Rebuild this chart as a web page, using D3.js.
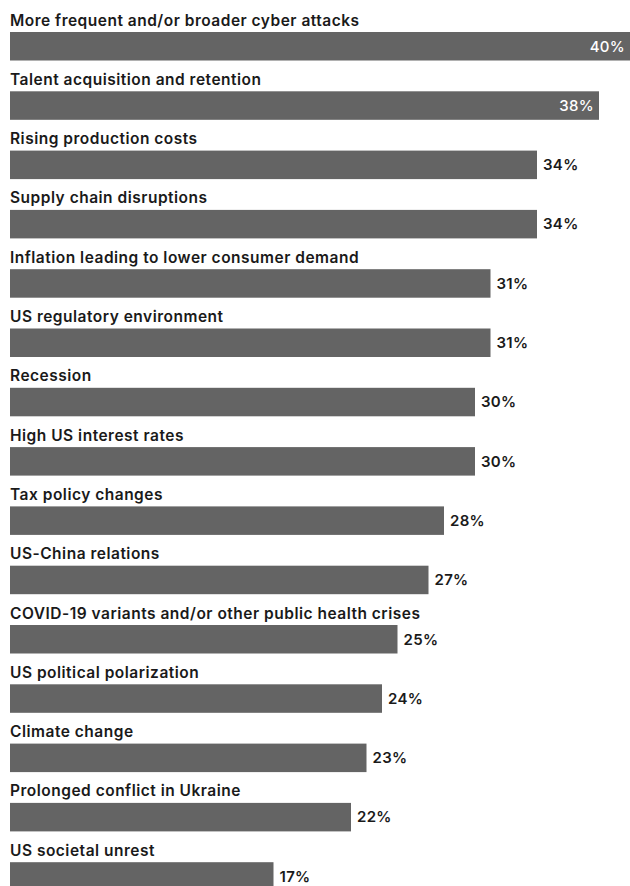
<!DOCTYPE html>
<html><head><meta charset="utf-8">
<script src="https://cdn.jsdelivr.net/npm/d3@7"></script>
<style>body{margin:0;background:#fff}svg{display:block}</style>
</head><body>
<script>
const categories = ["More frequent and/or broader cyber attacks","Talent acquisition and retention","Rising production costs","Supply chain disruptions","Inflation leading to lower consumer demand","US regulatory environment","Recession","High US interest rates","Tax policy changes","US-China relations","COVID-19 variants and/or other public health crises","US political polarization","Climate change","Prolonged conflict in Ukraine","US societal unrest"];
const values = [40,38,34,34,31,31,30,30,28,27,25,24,23,22,17];
const insideThreshold = 38;

const W = 630, H = 886;
const svg = d3.select("body").append("svg").attr("width", W).attr("height", H);
const x = d3.scaleLinear().domain([0, 40]).range([10, 630]);
const pitch = 59.3;
const y = d3.scaleBand().domain(categories).range([32 - 27.5, 32 + 15 * pitch - 27.5]).paddingInner(0).paddingOuter(0);
const barTop = d => y(d) + 27.5;
const barH = 28.5;
const font = "Inter, 'Noto Sans', sans-serif";

const g = svg.selectAll("g.row").data(categories.map((c, i) => ({c, v: values[i]}))).join("g");
g.append("text").attr("x", 10).attr("y", d => barTop(d.c) - 6.5)
  .attr("font-family", font).attr("font-size", 15.5).attr("font-weight", 600).attr("fill", "#1a1a1a")
  .attr("letter-spacing", 0.5)
  .text(d => d.c);
g.append("rect").attr("x", x(0)).attr("y", d => barTop(d.c)).attr("width", d => x(d.v) - x(0)).attr("height", barH)
  .attr("fill", "#646464");
g.append("text")
  .attr("x", d => d.v >= insideThreshold ? x(d.v) - 5 : x(d.v) + 6)
  .attr("y", d => barTop(d.c) + 19.5)
  .attr("text-anchor", d => d.v >= insideThreshold ? "end" : "start")
  .attr("font-family", font).attr("font-size", 15).attr("font-weight", d => d.v >= insideThreshold ? 500 : 600)
  .attr("letter-spacing", 0.3)
  .attr("fill", d => d.v >= insideThreshold ? "#fff" : "#1a1a1a")
  .text(d => d.v + "%");
</script>
</body></html>
